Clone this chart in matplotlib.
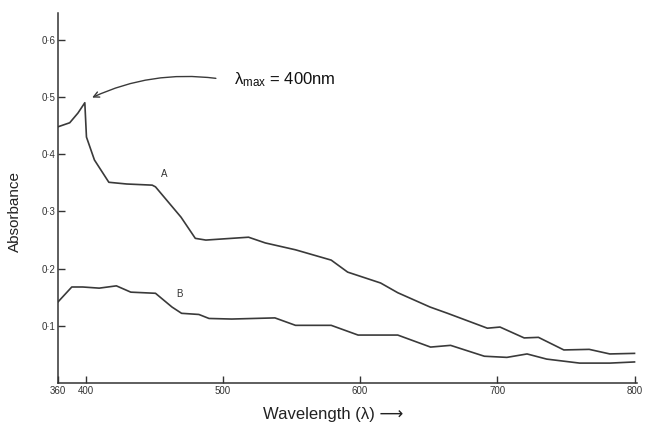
import numpy as np
import matplotlib.pyplot as plt

# spectra (wavelength in nm, absorbance)
wl_a = [360, 377, 389, 399, 400.7, 406.5, 417, 430, 448.6, 451, 469.6, 480, 487.7,
        500, 518.8, 531, 553, 579, 591, 615, 627.5, 651, 663.8, 692.8, 702,
        719.6, 730, 748.5, 767, 782, 800]
abs_a = [0.448, 0.455, 0.472, 0.49, 0.43, 0.39, 0.351, 0.348, 0.346, 0.343, 0.29, 0.253, 0.25,
         0.252, 0.255, 0.245, 0.233, 0.215, 0.194, 0.175, 0.158, 0.133, 0.122, 0.096, 0.098,
         0.079, 0.080, 0.058, 0.059, 0.051, 0.052]

wl_b = [360, 380, 396, 410, 422.5, 433, 451, 463, 470, 482.6, 490, 506.5, 538, 553,
        579, 598.6, 627.5, 651.4, 666, 690.6, 707, 721.7, 736, 760, 782, 800]
abs_b = [0.142, 0.168, 0.168, 0.166, 0.170, 0.159, 0.157, 0.133, 0.122, 0.120, 0.113, 0.112,
         0.114, 0.101, 0.101, 0.084, 0.084, 0.063, 0.066, 0.047, 0.045, 0.051, 0.042,
         0.035, 0.035, 0.037]

x_ticks = [360, 400, 500, 600, 700, 800]
x_labels = ['360', '400', '500', '600', '700', '800']
y_ticks = [0.1, 0.2, 0.3, 0.4, 0.5, 0.6]
y_labels = ['0·1', '0·2', '0·3', '0·4', '0·5', '0·6']


# the original axis is broken: 360-400 is squeezed into half the width
def fwd(x):
    x = np.asarray(x, dtype=float)
    return np.where(x < 400, 380 + (x - 360) * 0.5, x)


def inv(x):
    x = np.asarray(x, dtype=float)
    return np.where(x < 400, 360 + (x - 380) * 2.0, x)


plt.rcParams['font.family'] = ['Liberation Sans', 'DejaVu Sans']

fig = plt.figure(figsize=(6.45, 4.3), dpi=100)
ax = fig.add_axes([0.090, 0.109, 0.898, 0.861])
ax.set_xscale('function', functions=(fwd, inv))

line_col = '#3a3a3a'
ax.plot(wl_a, abs_a, color=line_col, lw=1.2)
ax.plot(wl_b, abs_b, color=line_col, lw=1.2)

ax.set_xlim(360, 802)
ax.set_ylim(0, 0.647)

ax.spines['top'].set_visible(False)
ax.spines['right'].set_visible(False)
for s in ['left', 'bottom']:
    ax.spines[s].set_linewidth(1.1)
    ax.spines[s].set_color('#333333')

ax.set_xticks(x_ticks)
ax.set_xticklabels(x_labels)
ax.set_yticks(y_ticks)
ax.set_yticklabels(y_labels)
ax.minorticks_off()
ax.tick_params(direction='in', length=5, width=1, color='#333333',
               labelsize=7, labelcolor='#333333', pad=2)

ax.text(455, 0.360, 'A', fontsize=7, color='#333333')
ax.text(466, 0.150, 'B', fontsize=7, color='#333333')

# curved pointer from the label to the peak
ax.annotate('', xy=(403, 0.497), xytext=(497, 0.532),
            arrowprops=dict(arrowstyle='->', color=line_col, lw=1.0,
                            connectionstyle='arc3,rad=0.15'))
ax.text(508, 0.523, r'$\mathregular{\lambda_{max}}$ = 400nm', fontsize=12, color='#111111')

fig.text(0.023, 0.507, 'Absorbance', rotation=90, ha='center', va='center',
         fontsize=11, color='#222222')
fig.text(0.516, 0.035, 'Wavelength (λ) ⟶', ha='center', va='center',
         fontsize=12, color='#222222')

fig.savefig('out.png', dpi=100)
